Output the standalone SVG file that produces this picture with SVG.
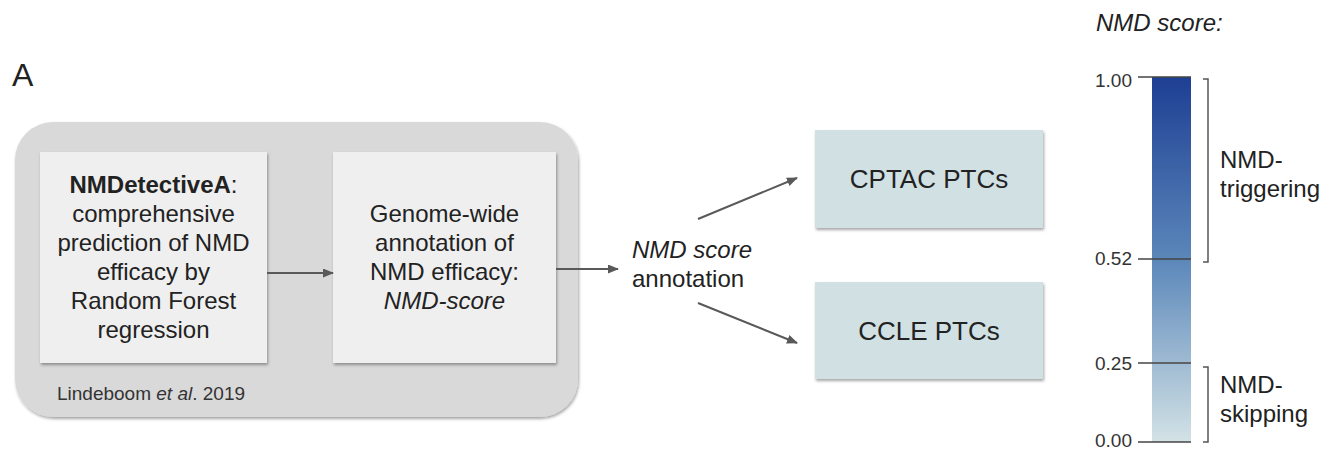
<svg xmlns="http://www.w3.org/2000/svg" width="1321" height="450" viewBox="0 0 1321 450">
<defs>
<filter id="sh" x="-10%" y="-10%" width="130%" height="130%">
<feDropShadow dx="1" dy="2" stdDeviation="1.5" flood-color="#000" flood-opacity="0.35"/>
</filter>
<linearGradient id="bar" x1="0" y1="0" x2="0" y2="1">
<stop offset="0" stop-color="#1e3f93"/>
<stop offset="0.5" stop-color="#5b87ba"/>
<stop offset="1" stop-color="#d3e2e6"/>
</linearGradient>
<marker id="ah" markerWidth="11" markerHeight="9" refX="10" refY="4.5" orient="auto" markerUnits="userSpaceOnUse">
<path d="M0,0 L11,4.5 L0,9 Z" fill="#595959"/>
</marker>
</defs>
<style>
text{font-family:"Liberation Sans",Arial,sans-serif;fill:#222}
.b{font-size:24px;text-anchor:middle}
.c{font-size:26px;text-anchor:middle}
.l{font-size:24px}
.t{font-size:19px;text-anchor:end;fill:#333}
.it{font-style:italic}
.box{fill:#efefef;filter:url(#sh)}
.cy{fill:#d0e0e3;filter:url(#sh)}
.ar{stroke:#595959;stroke-width:2;fill:none;marker-end:url(#ah)}
.tk{stroke:#444;stroke-width:1.5}
.br{stroke:#555;stroke-width:1.5;fill:none}
</style>
<rect width="1321" height="450" fill="#fff"/>
<text x="12" y="86" style="font-size:32px">A</text>
<g id="container">
<rect x="15" y="122" width="563" height="295" rx="38" fill="#d9d9d9" filter="url(#sh)"/>
<text x="57" y="400" style="font-size:19px;fill:#333">Lindeboom <tspan class="it">et al</tspan>. 2019</text>
</g>
<g id="node1">
<rect class="box" x="40" y="152" width="227" height="211"/>
<text class="b" x="153.5" y="193"><tspan font-weight="bold">NMDetectiveA</tspan>:</text>
<text class="b" x="153.5" y="222">comprehensive</text>
<text class="b" x="153.5" y="251">prediction of NMD</text>
<text class="b" x="153.5" y="280">efficacy by</text>
<text class="b" x="153.5" y="309">Random Forest</text>
<text class="b" x="153.5" y="338">regression</text>
</g>
<g id="node2">
<rect class="box" x="333" y="152" width="223" height="211"/>
<text class="b" x="444.5" y="222">Genome-wide</text>
<text class="b" x="444.5" y="251">annotation of</text>
<text class="b" x="444.5" y="280">NMD efficacy:</text>
<text class="b it" x="444.5" y="309">NMD-score</text>
</g>
<g id="node3">
<text class="l it" x="632" y="258">NMD score</text>
<text class="l" x="632" y="287">annotation</text>
</g>
<g id="node4">
<rect class="cy" x="815" y="130" width="228" height="98"/>
<text class="c" x="929" y="188">CPTAC PTCs</text>
</g>
<g id="node5">
<rect class="cy" x="815" y="282" width="228" height="97"/>
<text class="c" x="929" y="340">CCLE PTCs</text>
</g>
<g id="connectors">
<line class="ar" x1="267" y1="273" x2="333" y2="273"/>
<line class="ar" x1="556" y1="269" x2="618" y2="269"/>
<line class="ar" x1="698" y1="219" x2="797" y2="178"/>
<line class="ar" x1="698" y1="303" x2="797" y2="343"/>
</g>
<g id="scale">
<text x="1096" y="31" class="l it">NMD score:</text>
<rect x="1152" y="77" width="39" height="365" fill="url(#bar)"/>
<line class="tk" x1="1138" y1="77" x2="1191" y2="77"/>
<line class="tk" x1="1138" y1="259" x2="1191" y2="259"/>
<line class="tk" x1="1138" y1="363" x2="1191" y2="363"/>
<line class="tk" x1="1138" y1="442" x2="1191" y2="442"/>
<text class="t" x="1132" y="87">1.00</text>
<text class="t" x="1132" y="265">0.52</text>
<text class="t" x="1132" y="370">0.25</text>
<text class="t" x="1132" y="447">0.00</text>
<path class="br" d="M1203,79 H1208 V262 H1203"/>
<path class="br" d="M1203,367 H1208 V442 H1203"/>
<text class="l" x="1220" y="168">NMD-</text>
<text class="l" x="1220" y="197">triggering</text>
<text class="l" x="1220" y="393">NMD-</text>
<text class="l" x="1220" y="422">skipping</text>
</g>
</svg>
